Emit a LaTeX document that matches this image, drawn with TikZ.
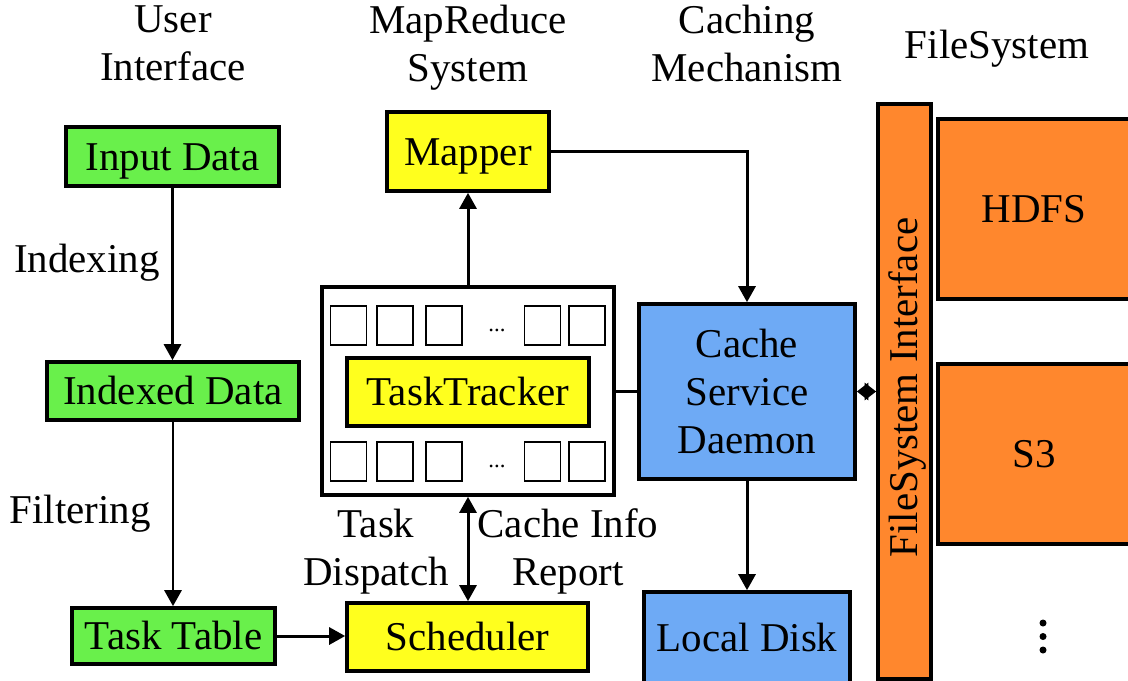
\documentclass[tikz,border=0pt]{standalone}
\usepackage{fontspec}
\setmainfont{Liberation Serif}
\usetikzlibrary{arrows.meta}
\definecolor{boxgreen}{RGB}{105,240,75}
\definecolor{boxyellow}{RGB}{255,255,30}
\definecolor{boxblue}{RGB}{110,170,245}
\definecolor{boxorange}{RGB}{255,135,45}
\begin{document}
\begin{tikzpicture}[x=0.02cm,y=-0.02cm,
  font=\fontsize{23.3}{27.4}\selectfont,
  box/.style={draw, line width=2.1pt, inner sep=0pt, align=center},
  oneline/.style={text height=15.4pt, text depth=0pt},
  slot/.style={draw, line width=0.9pt, fill=white, minimum width=0.72cm, minimum height=0.78cm, inner sep=0pt},
  tip/.style={Triangle[length=0.32cm,width=0.34cm]},
  arr/.style={line width=1.7pt, -{Triangle[length=0.32cm,width=0.34cm]}},
  dblarr/.style={line width=1.7pt, {Triangle[length=0.32cm,width=0.34cm]}-{Triangle[length=0.32cm,width=0.34cm]}},
  shortdbl/.style={line width=1.7pt, {Triangle[length=0.23cm,width=0.34cm]}-{Triangle[length=0.23cm,width=0.34cm]}},
  link/.style={line width=1.7pt}]
\useasboundingbox (0,0) rectangle (1128,680);
\clip (0,0) rectangle (1128,680);

% column headings
\node[align=center] (hui) at (173,43.5) {User\\Interface};
\node[align=center] (hmr) at (468,48) {MapReduce\\System};
\node[align=center] (hcm) at (747,43.5) {Caching\\Mechanism};
\node[anchor=base] (hfs) at (997,58) {FileSystem};

% user interface column
\node[box, oneline, fill=boxgreen, minimum width=4.26cm, minimum height=1.18cm] (indata) at (172.5,156.5) {Input Data};
\node[box, oneline, fill=boxgreen, minimum width=5.04cm, minimum height=1.16cm] (idxdata) at (173,391) {Indexed Data};
\node[box, oneline, fill=boxgreen, minimum width=4.06cm, minimum height=1.12cm] (tasktable) at (173.5,636) {Task Table};
\node[anchor=base] (lidx) at (87,272) {Indexing};
\node[anchor=base] (lfilt) at (80,523) {Filtering};

% MapReduce column
\node[box, oneline, fill=boxyellow, minimum width=3.24cm, minimum height=1.58cm] (mapper) at (468,151.5) {Mapper};
\node[box, fill=white, minimum width=5.84cm, minimum height=4.16cm] (tt) at (468,391) {};
\foreach \i/\x in {1/348.5,2/395,3/444,4/542.5,5/587}{
  \node[slot] (up\i) at (\x,325.5) {};
  \node[slot] (dn\i) at (\x,461.5) {};
}
\node[font=\fontsize{13}{14}\selectfont] (updots) at (497,330) {...};
\node[font=\fontsize{13}{14}\selectfont] (dndots) at (497,466) {...};
\node[box, oneline, fill=boxyellow, minimum width=4.84cm, minimum height=1.36cm] (ttin) at (468,392) {TaskTracker};
\node[box, oneline, fill=boxyellow, minimum width=4.82cm, minimum height=1.36cm] (sched) at (467.5,637) {Scheduler};
\node[align=center] (ldisp) at (376,551.5) {Task\\Dispatch};
\node[align=center] (lrep) at (568,551.5) {Cache Info\\Report};

% caching column
\node[box, fill=boxblue, minimum width=4.32cm, minimum height=3.5cm] (cache) at (747,391.5) {Cache\\Service\\Daemon};
\node[box, oneline, fill=boxblue, minimum width=4.12cm, minimum height=1.84cm] (disk) at (747,638) {Local Disk};

% file system column
\node[box, fill=boxorange, minimum width=1.06cm, minimum height=11.5cm] (fsi) at (904.5,391.5) {};
\node[rotate=90, anchor=base] (fsitext) at (917,387.5) {FileSystem Interface};
\node[box, oneline, fill=boxorange, minimum width=3.84cm, minimum height=3.6cm] (hdfs) at (1034,209) {HDFS};
\node[box, oneline, fill=boxorange, minimum width=3.84cm, minimum height=3.6cm] (s3) at (1034,454) {S3};
\foreach \j/\y in {1/623,2/636.5,3/650}{
  \fill (1043,\y) circle (2pt) coordinate (fsdot\j);
}

% connectors
\draw[arr] (indata.south) -- (indata.south |- idxdata.north);
\draw[arr] (idxdata.south) -- (idxdata.south |- tasktable.north);
\draw[arr] (tasktable.east) -- (tasktable.east -| sched.west);
\draw[arr] (tt.north) -- (tt.north |- mapper.south);
\draw[arr] (mapper.east) -| (cache.north);
\draw[link] (tt.east) -- (tt.east -| cache.west);
\draw[arr] (cache.south) -- (disk.north);
\draw[shortdbl] (cache.east) -- (cache.east -| fsi.west);
\draw[dblarr] (tt.south) -- (tt.south |- sched.north);
\end{tikzpicture}
\end{document}
